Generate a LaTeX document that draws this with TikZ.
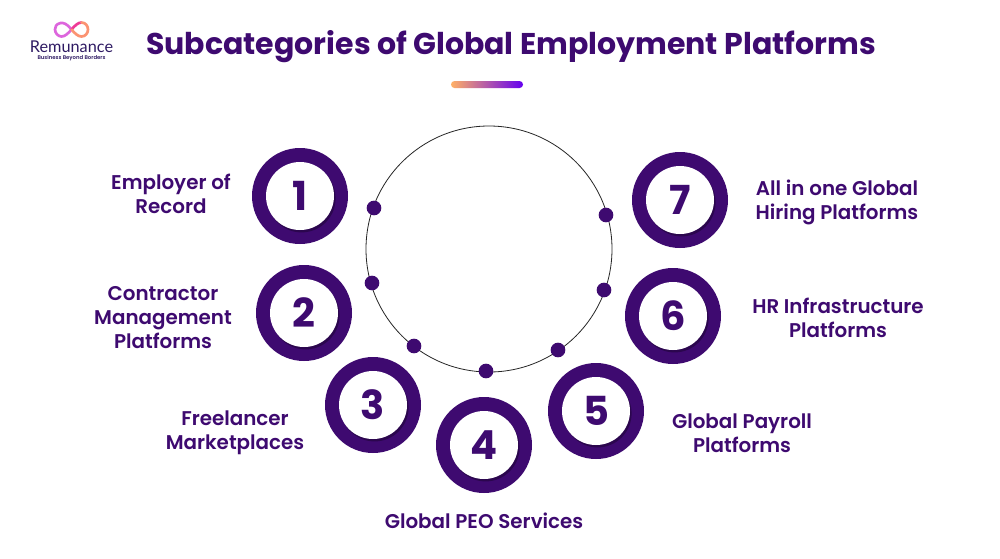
\documentclass[tikz,border=0pt]{standalone}
\usepackage{fontspec}
\setmainfont{Poppins}[BoldFont=Poppins SemiBold]
\newfontfamily\numfont{Poppins}[UprightFont=* Bold]
\newfontfamily\logofont{Lato}
\usetikzlibrary{shadows}
\definecolor{deep}{HTML}{3E0A70}
\definecolor{navy}{HTML}{2E1A63}
\definecolor{barleft}{HTML}{FFB066}
\definecolor{barmid}{HTML}{EE3A96}
\definecolor{barright}{HTML}{6400F0}
\tikzset{
  ring/.style={circle,fill=deep,minimum size=72pt,inner sep=0pt},
  disc/.style={circle,fill=white,minimum size=51pt,inner sep=0pt,text=deep,
    font=\numfont\fontsize{30}{30}\selectfont,
    drop shadow={shadow xshift=1.2pt,shadow yshift=-1.8pt,fill=black,opacity=.3}},
  dot/.style={circle,fill=deep,minimum size=11pt,inner sep=0pt},
  label/.style={align=center,text=deep,font=\bfseries\fontsize{14.9}{18}\selectfont},
}
\begin{document}
\begin{tikzpicture}[x=0.75pt,y=-0.75pt,line cap=round,line join=round]
  \useasboundingbox[fill=white](0,0)rectangle(1000,558);
  % heading
  \node[text=deep,font=\numfont\fontsize{22.5}{28}\selectfont](title)at(511,47){Subcategories of Global Employment Platforms};
  \shade[left color=barleft,middle color=barmid,right color=barright,rounded corners=2.6pt](451,81)rectangle(523,88);
  % logo
  \draw[line width=2pt,violet!45!magenta!60!white](71.5,29.5)..controls(67,23.5)and(63,22.5)..(60.5,23)..controls(56,24)and(55,27)..(55,29.5)..controls(55,33)and(58,36.5)..(61.5,36.5)..controls(65,36.5)and(68,33.5)..(71.5,29.5);
  \draw[line width=2pt,barmid](71.5,29.5)..controls(75,25.5)and(78,22.5)..(81.5,22.5);
  \draw[line width=2pt,barleft!75!barmid](81.5,22.5)..controls(85.5,22.5)and(88,26)..(88,29.5)..controls(88,33)and(85.5,36.5)..(81.5,36.5)..controls(78,36.5)and(75,33.5)..(71.5,29.5);
  \node[text=navy,font=\logofont\fontsize{12.2}{14}\selectfont](logotext)at(71.5,46.5){Remunance};
  \node[text=navy,font=\bfseries\fontsize{4}{4}\selectfont](logotag)at(71.5,58){Business Beyond Borders};
  % big circle
  \draw[line width=.6pt,black!85](489,249)circle(123);
  % dots on it
  \foreach \x/\y/\n in{374/208/1,372/283/2,414/346/3,486/371/4,558/350/5,604/290/6,606/215/7}
    \node[dot](dot\n)at(\x,\y){};
  % badges
  \foreach \x/\y/\n in{300/196/1,304/313/2,373/405/3,484/445/4,596/411/5,673/316/6,680/200/7}{
    \node[ring](ring\n)at(\x,\y){};
    \node[disc](disc\n)at(\x,\y){\n};
  }
  % labels
  \node[label](emp)at(171,194){Employer of\\Record};
  \node[label](con)at(163,317.5){Contractor\\Management\\Platforms};
  \node[label](fre)at(235,433){Freelancer\\Marketplaces};
  \node[label](peo)at(484,521){Global PEO Services};
  \node[label](pay)at(742,433){Global Payroll\\Platforms};
  \node[label](hri)at(838,318){HR Infrastructure\\Platforms};
  \node[label](all)at(837,202){All in one Global\\Hiring Platforms};
\end{tikzpicture}
\end{document}
